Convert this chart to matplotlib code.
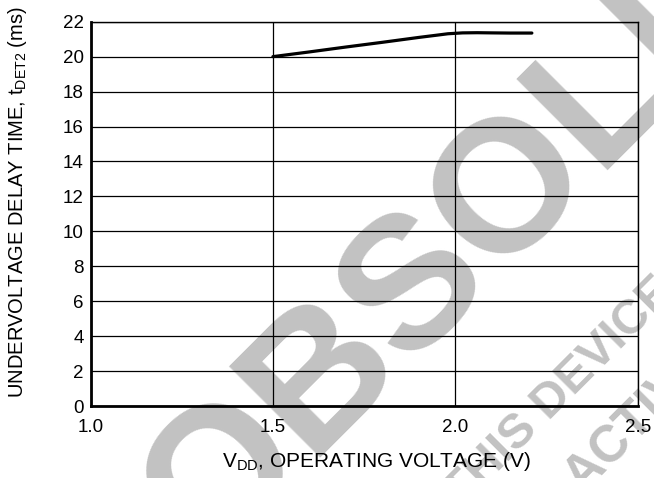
import numpy as np
import matplotlib
matplotlib.use('Agg')
import matplotlib.pyplot as plt

plt.rcParams['font.family'] = ['Liberation Sans', 'DejaVu Sans']
plt.rcParams['mathtext.fontset'] = 'custom'
plt.rcParams['mathtext.rm'] = 'Liberation Sans'

# undervoltage delay time vs supply voltage
vdd = [1.5, 1.6, 1.7, 1.8, 1.9, 1.95, 1.98, 2.02, 2.06, 2.1, 2.15, 2.21]
tdet2 = [20.0, 20.27, 20.55, 20.82, 21.1, 21.23, 21.31, 21.36, 21.37, 21.36, 21.35, 21.35]

xticks = [1.0, 1.5, 2.0, 2.5]
yticks = list(range(0, 23, 2))

wm_color = '#c2c2c2'

fig = plt.figure(figsize=(6.54, 4.78), dpi=100)
ax = fig.add_axes([0.1384, 0.1506, 0.8366, 0.804])
ax.set_facecolor('none')

# watermark sits behind the (transparent) axes
fig.text(0.316, -0.180, 'OBSOLETE', rotation=45, rotation_mode='anchor',
         ha='left', va='baseline', fontsize=135, fontweight='bold',
         color=wm_color, zorder=-1)
fig.text(0.705, -0.065, 'THIS DEVICE IS NO LONGER', rotation=45, rotation_mode='anchor',
         ha='left', va='baseline', fontsize=35, fontweight='bold',
         color=wm_color, zorder=-1)
fig.text(0.89, -0.034, 'ACTIVE', rotation=45, rotation_mode='anchor',
         ha='left', va='baseline', fontsize=37, fontweight='bold',
         color=wm_color, zorder=-1)

ax.plot(vdd, tdet2, color='black', linewidth=2.3, solid_capstyle='round', zorder=3)

ax.set_xlim(1.0, 2.5)
ax.set_ylim(0, 22)
ax.set_xticks(xticks)
ax.set_xticklabels(['%.1f' % v for v in xticks])
ax.set_yticks(yticks)
ax.grid(True, color='black', linewidth=0.9)
ax.set_axisbelow(True)

ax.tick_params(length=0, labelsize=13.5)
ax.tick_params(axis='x', pad=9)
ax.tick_params(axis='y', pad=5)

for side in ['left', 'bottom']:
    ax.spines[side].set_linewidth(2.0)
for side in ['top', 'right']:
    ax.spines[side].set_linewidth(1.0)

ax.set_xlabel(r'V$_{\rm DD}$, OPERATING VOLTAGE (V)', fontsize=15, labelpad=12)
ax.xaxis.set_label_coords(0.523, -0.115)
ax.set_ylabel(r'UNDERVOLTAGE DELAY TIME, t$_{\rm DET2}$ (ms)', fontsize=14.5)
ax.yaxis.set_label_coords(-0.112, 0.53)

plt.savefig('out.png', dpi=100)
